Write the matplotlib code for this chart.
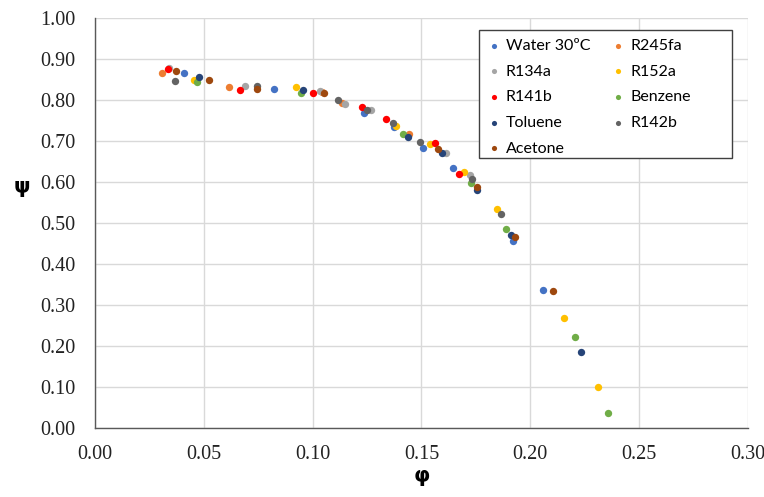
import matplotlib
matplotlib.use("Agg")
import matplotlib.pyplot as plt
from matplotlib.patches import Rectangle

# phi, psi per fluid
water_phi = [0.0408, 0.0821, 0.1234, 0.1372, 0.1509, 0.1647, 0.1922, 0.2060]
water_psi = [0.866, 0.827, 0.768, 0.734, 0.683, 0.634, 0.456, 0.337]

r245fa_phi = [0.0307, 0.0615, 0.1041, 0.1133, 0.1445]
r245fa_psi = [0.866, 0.832, 0.820, 0.793, 0.717]

r134a_phi = [0.0339, 0.0688, 0.1032, 0.1151, 0.1266, 0.1615, 0.1725]
r134a_psi = [0.878, 0.834, 0.822, 0.790, 0.776, 0.671, 0.617]

r152a_phi = [0.0454, 0.0922, 0.1385, 0.1541, 0.1697, 0.1849, 0.2156, 0.2312]
r152a_psi = [0.849, 0.832, 0.737, 0.693, 0.624, 0.534, 0.268, 0.100]

r141b_phi = [0.0335, 0.0665, 0.1000, 0.1229, 0.1335, 0.1564, 0.1674]
r141b_psi = [0.876, 0.824, 0.817, 0.783, 0.754, 0.695, 0.620]

benzene_phi = [0.0468, 0.0945, 0.1413, 0.1729, 0.1890, 0.2206, 0.2358]
benzene_psi = [0.844, 0.817, 0.717, 0.598, 0.485, 0.222, 0.037]

toluene_phi = [0.0477, 0.0954, 0.1436, 0.1596, 0.1757, 0.1913, 0.2234]
toluene_psi = [0.856, 0.824, 0.710, 0.671, 0.580, 0.471, 0.185]

r142b_phi = [0.0367, 0.0743, 0.1115, 0.1248, 0.1367, 0.1491, 0.1734, 0.1867]
r142b_psi = [0.846, 0.834, 0.800, 0.776, 0.744, 0.698, 0.607, 0.522]

acetone_phi = [0.0372, 0.0523, 0.0743, 0.1050, 0.1578, 0.1757, 0.1931, 0.2106]
acetone_psi = [0.871, 0.849, 0.827, 0.817, 0.680, 0.588, 0.466, 0.334]

series = [
    ("Water 30ºC", water_phi, water_psi, "#4472C4"),
    ("R245fa", r245fa_phi, r245fa_psi, "#ED7D31"),
    ("R134a", r134a_phi, r134a_psi, "#A5A5A5"),
    ("R152a", r152a_phi, r152a_psi, "#FFC000"),
    ("R141b", r141b_phi, r141b_psi, "#FF0000"),
    ("Benzene", benzene_phi, benzene_psi, "#70AD47"),
    ("Toluene", toluene_phi, toluene_psi, "#264478"),
    ("R142b", r142b_phi, r142b_psi, "#636363"),
    ("Acetone", acetone_phi, acetone_psi, "#9E480E"),
]

fig = plt.figure(figsize=(7.64, 4.97), dpi=100)
ax = fig.add_axes([0.1243, 0.1388, 0.8547, 0.825])

handles = {}
for name, px, py, col in series:
    h = ax.scatter(px, py, s=28, color=col, label=name, zorder=3, linewidths=0)
    handles[name] = h

ax.set_xlim(0, 0.30)
ax.set_ylim(0, 1.0)
ax.set_xticks([0, 0.05, 0.10, 0.15, 0.20, 0.25, 0.30])
ax.set_yticks([i / 10 for i in range(11)])
ax.xaxis.set_major_formatter(matplotlib.ticker.FormatStrFormatter("%.2f"))
ax.yaxis.set_major_formatter(matplotlib.ticker.FormatStrFormatter("%.2f"))
ax.tick_params(length=0, labelsize=14.5, labelcolor="#222222")
ax.tick_params(axis="x", pad=12)
ax.tick_params(axis="y", pad=14)
for lab in ax.get_xticklabels() + ax.get_yticklabels():
    lab.set_family("Liberation Serif")

ax.grid(True, color="#D9D9D9", linewidth=1.0, zorder=0)
ax.set_axisbelow(True)
for s in ["top", "right"]:
    ax.spines[s].set_visible(False)
for s in ["left", "bottom"]:
    ax.spines[s].set_color("#595959")
    ax.spines[s].set_linewidth(1.0)

ax.set_xlabel("φ", fontsize=15, fontweight="bold", family="DejaVu Sans", labelpad=2)
ax.set_ylabel("ψ", fontsize=15, fontweight="bold", family="DejaVu Sans", rotation=0,
              va="center", ha="center")
ax.yaxis.set_label_coords(-0.112, 0.588)

# legend box (fixed size like the original), entries laid out inside it
box = Rectangle((0.5881, 0.6585), 0.3874, 0.3122, transform=ax.transAxes,
                facecolor="white", edgecolor="#404040", linewidth=1.0, zorder=4)
ax.add_patch(box)

order = ["Water 30ºC", "R134a", "R141b", "Toluene", "Acetone",
         "R245fa", "R152a", "Benzene", "R142b"]
leg = ax.legend([handles[n] for n in order], order, ncol=2, loc="upper left",
                bbox_to_anchor=(0.5881, 0.971), frameon=False,
                markerscale=0.7, handlelength=0.78,
                handletextpad=0.36, columnspacing=1.36, labelspacing=0.72,
                borderpad=0.55, borderaxespad=0,
                prop={"family": "Lato", "size": 11.5})
leg.set_zorder(5)

fig.savefig("out.png", dpi=100)
